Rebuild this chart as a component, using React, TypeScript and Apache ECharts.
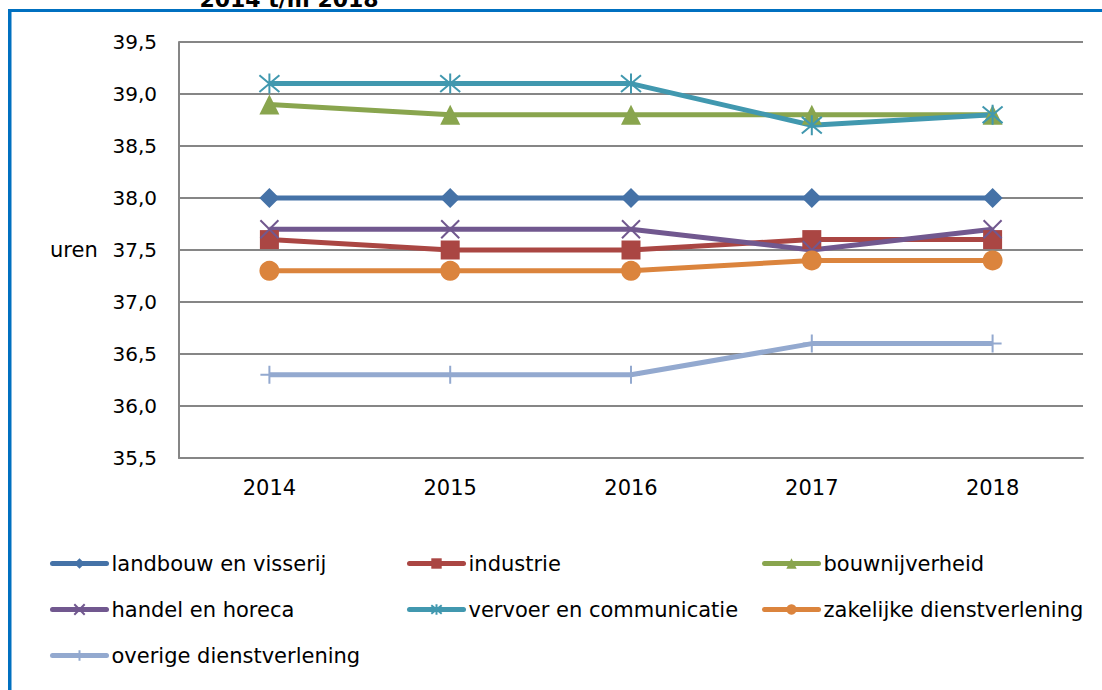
import React, { useEffect, useRef } from "react";
import * as echarts from "echarts";

const years = ["2014", "2015", "2016", "2017", "2018"];
const landbouw = [38.0, 38.0, 38.0, 38.0, 38.0];
const industrie = [37.6, 37.5, 37.5, 37.6, 37.6];
const bouw = [38.9, 38.8, 38.8, 38.8, 38.8];
const handel = [37.7, 37.7, 37.7, 37.5, 37.7];
const vervoer = [39.1, 39.1, 39.1, 38.7, 38.8];
const zakelijk = [37.3, 37.3, 37.3, 37.4, 37.4];
const overige = [36.3, 36.3, 36.3, 36.6, 36.6];

const names = [
  "landbouw en visserij",
  "industrie",
  "bouwnijverheid",
  "handel en horeca",
  "vervoer en communicatie",
  "zakelijke dienstverlening",
  "overige dienstverlening",
];

const FONT = "DejaVu Sans";

export default function App() {
  const ref = useRef<HTMLDivElement>(null);
  useEffect(() => {
    if (!ref.current) return;
    const chart = echarts.init(ref.current, null, { renderer: "svg" });
    const mk = (
      name: string,
      data: number[],
      color: string,
      symbol: string,
      size: number,
      stroke: boolean
    ) => ({
      name,
      type: "line",
      data,
      color,
      symbol,
      symbolSize: size,
      lineStyle: { width: 5, color },
      itemStyle: stroke
        ? { color, borderColor: color, borderWidth: 2 }
        : { color, borderWidth: 0 },
      z: 3,
    });
    const legendPos: [number, number, number][] = [
      [0, 50, 565],
      [1, 407, 565],
      [2, 762, 565],
      [3, 50, 611],
      [4, 407, 611],
      [5, 762, 611],
      [6, 50, 657],
    ];
    chart.setOption({
      animation: false,
      backgroundColor: "#ffffff",
      textStyle: { fontFamily: FONT },
      grid: { left: 179, right: 19, top: 42, bottom: 232, containLabel: false },
      xAxis: {
        type: "category",
        data: years,
        boundaryGap: true,
        axisLine: { show: true, lineStyle: { color: "#868686", width: 2 } },
        axisTick: { show: false },
        axisLabel: { color: "#000", fontSize: 21, fontFamily: FONT, margin: 19 },
      },
      yAxis: {
        type: "value",
        min: 35.5,
        max: 39.5,
        interval: 0.5,
        axisLine: { show: true, lineStyle: { color: "#868686", width: 2 } },
        axisTick: { show: false },
        splitLine: { show: true, lineStyle: { color: "#868686", width: 2 } },
        axisLabel: {
          color: "#000",
          fontSize: 20,
          fontFamily: FONT,
          margin: 22,
          formatter: (v: number) => v.toFixed(1).replace(".", ","),
        },
      },
      legend: legendPos.map(([i, x, y]) => ({
        data: [names[i]],
        left: x,
        top: y - 12,
        padding: 0,
        itemWidth: 54,
        itemHeight: 13,
        itemGap: 0,
        selectedMode: false,
        lineStyle: { width: 5, cap: "round" },
        textStyle: { color: "#000", fontSize: 21, fontFamily: FONT },
      })),
      series: [
        mk(names[0], landbouw, "#4572A7", "diamond", 20, false),
        mk(names[1], industrie, "#AA4643", "rect", 19, false),
        mk(names[2], bouw, "#89A54E", "triangle", 20, false),
        mk(names[3], handel, "#71588F", "path://M0 0L10 10M10 0L0 10", 18, true),
        mk(names[4], vervoer, "#4198AF", "path://M0 0L10 10M10 0L0 10M5 -1L5 11", 20, true),
        mk(names[5], zakelijk, "#DB843D", "circle", 20, false),
        mk(names[6], overige, "#93A9CF", "path://M5 0L5 10M0 5L10 5", 18, true),
      ],
      graphic: [
        { type: "rect", shape: { x: 8, y: 9, width: 1094, height: 3 }, style: { fill: "#0070C0" }, silent: true },
        { type: "rect", shape: { x: 8, y: 9, width: 3.5, height: 681 }, style: { fill: "#0070C0" }, silent: true },
        {
          type: "text",
          x: 289,
          y: 10,
          style: {
            text: "2014 t/m 2018",
            fill: "#000",
            font: `bold 22px ${FONT}`,
            align: "center",
            verticalAlign: "bottom",
          },
          silent: true,
        },
        {
          type: "text",
          x: 50,
          y: 250,
          style: {
            text: "uren",
            fill: "#000",
            font: `21px ${FONT}`,
            align: "left",
            verticalAlign: "middle",
          },
          silent: true,
        },
      ],
    });
    return () => chart.dispose();
  }, []);
  return (
    <div
      ref={ref}
      style={{ position: "fixed", left: 0, top: 0, width: 1102, height: 690 }}
    />
  );
}
